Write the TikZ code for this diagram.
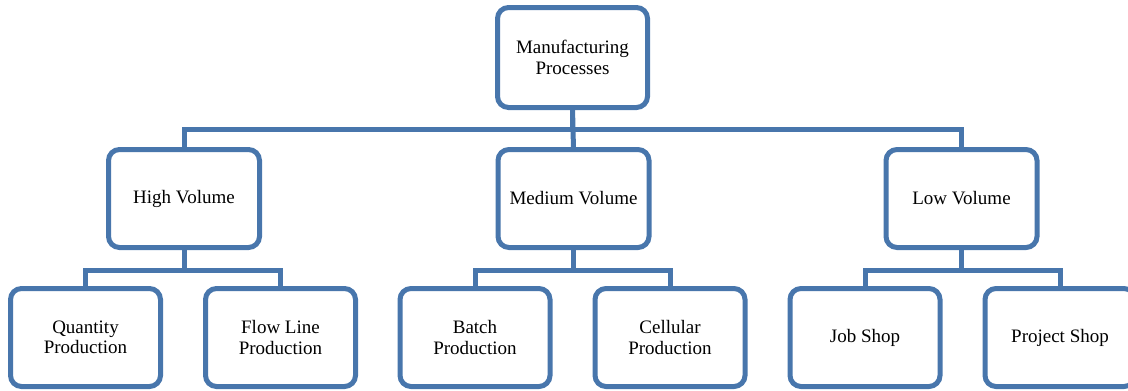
\documentclass[tikz,border=0pt]{standalone}
\usepackage{fontspec}
\setmainfont{Liberation Serif}
\definecolor{boxblue}{RGB}{72,118,172}
\begin{document}
\begin{tikzpicture}[x=1pt,y=-1pt,
  box/.style={draw=boxblue,line width=5pt,rounded corners=11pt,fill=white,outer sep=0pt,inner sep=0pt,align=center,font=\fontsize{19}{20.5}\selectfont,minimum width=150pt,minimum height=98pt},
  link/.style={draw=boxblue,line width=5pt}]
\clip (0,0) rectangle (1128,391);
% connectors
\node[box,minimum height=100pt] (mp) at (572.5,57.5) {Manufacturing\\Processes};
\node[box,minimum width=151pt] (hv) at (184,198.5) {High Volume};
\node[box,minimum width=151pt] (mv) at (573.5,198.5) {Medium Volume};
\node[box,minimum width=151pt] (lv) at (961.5,198.5) {Low Volume};
\node[box] (qp) at (85.5,337.5) {Quantity\\Production};
\node[box] (fl) at (280.5,337.5) {Flow Line\\Production};
\node[box] (bp) at (475,337.5) {Batch\\Production};
\node[box] (cp) at (670,337.5) {Cellular\\Production};
\node[box] (js) at (865,337.5) {Job Shop};
\node[box] (ps) at (1060,337.5) {Project Shop};
\draw[link] (mp.south) -- ++(0,21.5) coordinate (bus) -| (hv.north);
\draw[link] (bus) -| (lv.north);
\draw[link] (mp.south) -- (mv.north);
\draw[link] (hv.south) -- ++(0,22.5) coordinate (hb) -| (qp.north);
\draw[link] (hb) -| (fl.north);
\draw[link] (mv.south) -- ++(0,22.5) coordinate (mb) -| (bp.north);
\draw[link] (mb) -| (cp.north);
\draw[link] (lv.south) -- ++(0,22.5) coordinate (lb) -| (js.north);
\draw[link] (lb) -| (ps.north);
\end{tikzpicture}
\end{document}
